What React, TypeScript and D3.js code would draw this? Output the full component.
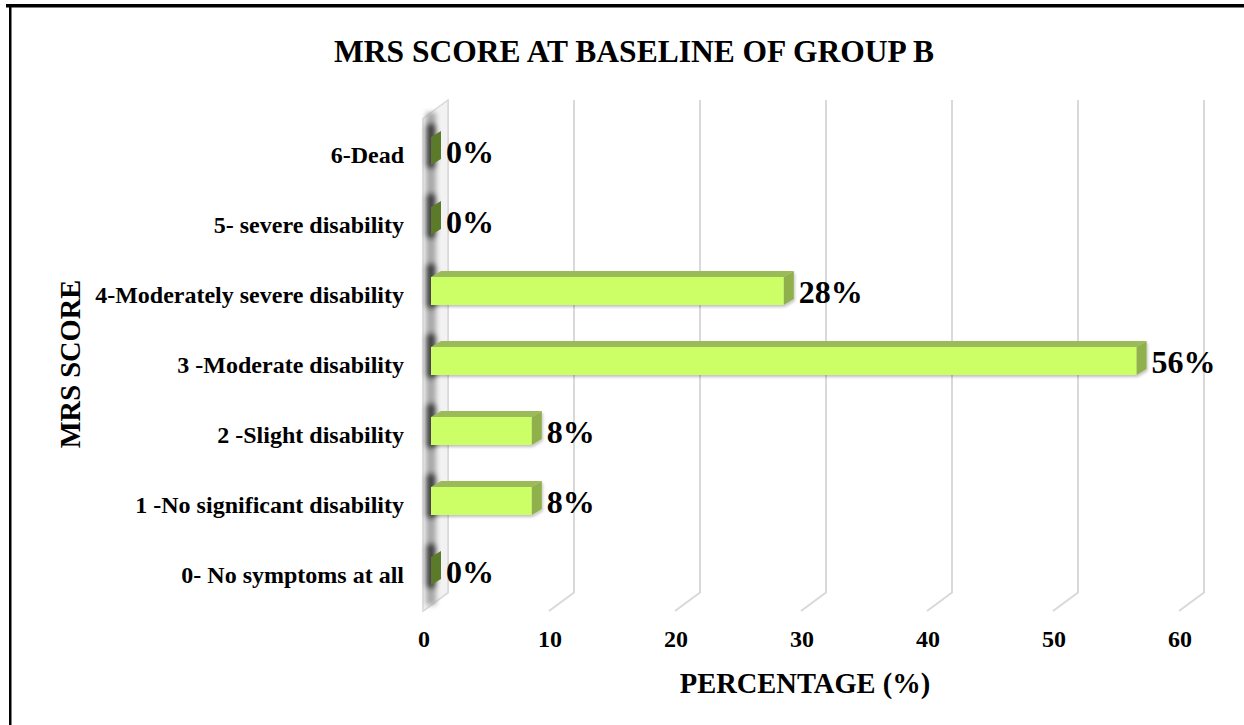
import React from "react";
import * as d3 from "d3";

// mRS categories (bottom to top) and their share of patients in group B
const categories = [
  "0- No symptoms at all",
  "1 -No significant disability",
  "2 -Slight disability",
  "3 -Moderate disability",
  "4-Moderately severe disability",
  "5- severe disability",
  "6-Dead",
];
const percentages = [0, 8, 8, 56, 28, 0, 0];
const xTicks = [0, 10, 20, 30, 40, 50, 60];

const TITLE = "MRS SCORE AT BASELINE OF GROUP B";
const X_TITLE = "PERCENTAGE (%)";
const Y_TITLE = "MRS SCORE";

const W = 1244;
const H = 725;
const FONT = "'Liberation Serif', 'Times New Roman', serif";

// oblique 3D projection: full floor depth shifts points right/up
const DEPTH_DX = 25;
const DEPTH_DY = -18.5;
const FLOOR_FRONT_Y = 611;
const WALL_TOP_Y = 100;

// bar depth sits inside the floor depth
const BAR_OFF_X = 8;
const BAR_DX = 10;
const BAR_DY = -6;

export default function App() {
  const x = d3.scaleLinear().domain([0, 60]).range([423, 1179]);
  const y = d3
    .scaleBand<string>()
    .domain(categories)
    .range([606, 116])
    .padding(0);
  const barH = y.bandwidth() * 0.4;

  const backY = FLOOR_FRONT_Y + DEPTH_DY;
  const wallFrontTop = WALL_TOP_Y - DEPTH_DY;

  return (
    <svg
      width={W}
      height={H}
      style={{ position: "absolute", left: 0, top: 0, background: "#fff" }}
      fontFamily={FONT}
    >
      <defs>
        <filter id="wallBlur" x="-50%" y="-5%" width="200%" height="110%">
          <feGaussianBlur stdDeviation="2.5" />
        </filter>
        <filter id="barShadow" x="-5%" y="-30%" width="110%" height="160%">
          <feGaussianBlur in="SourceAlpha" stdDeviation="1.5" />
          <feOffset dx="1" dy="2" result="o" />
          <feComponentTransfer>
            <feFuncA type="linear" slope="0.25" />
          </feComponentTransfer>
          <feMerge>
            <feMergeNode />
            <feMergeNode in="SourceGraphic" />
          </feMerge>
        </filter>
      </defs>

      {/* page frame */}
      <rect x={6} y={4} width={W - 6} height={3.5} fill="#000" />
      <rect x={9} y={4} width={2.5} height={H - 4} fill="#000" />

      {/* back-wall gridlines running into the floor */}
      {xTicks.map((t) => (
        <polyline
          key={`g${t}`}
          points={`${x(t) + DEPTH_DX},${WALL_TOP_Y} ${x(t) + DEPTH_DX},${backY} ${x(t)},${FLOOR_FRONT_Y}`}
          fill="none"
          stroke="#d9d9d9"
          strokeWidth={2}
        />
      ))}

      {/* side wall at zero */}
      <polygon
        points={`${x(0)},${wallFrontTop} ${x(0) + DEPTH_DX},${WALL_TOP_Y} ${x(0) + DEPTH_DX},${backY} ${x(0)},${FLOOR_FRONT_Y}`}
        fill="#f2f2f2"
        stroke="#d9d9d9"
        strokeWidth={1.5}
      />
      <g filter="url(#wallBlur)">
        <rect
          x={x(0) + 3}
          y={wallFrontTop - 6}
          width={10}
          height={FLOOR_FRONT_Y - wallFrontTop}
          fill="#a8a8a8"
        />
        {categories.map((c) => (
          <rect
            key={`s${c}`}
            x={x(0) + 3}
            y={(y(c) as number) + y.bandwidth() / 2 - barH / 2 - 14}
            width={10}
            height={barH + 18}
            rx={4}
            fill="#444"
          />
        ))}
      </g>

      {/* 3D bars */}
      {categories.map((c, i) => {
        const v = percentages[i];
        const cy = (y(c) as number) + y.bandwidth() / 2;
        const x0 = x(0) + BAR_OFF_X;
        const x1 = x(v) + BAR_OFF_X;
        const yt = cy - barH / 2;
        const yb = cy + barH / 2;
        return (
          <g key={`b${c}`} filter={v > 0 ? "url(#barShadow)" : undefined}>
            {v > 0 && (
              <>
                <rect x={x0} y={yt} width={x1 - x0} height={barH} fill="#ccff66" />
                <polygon
                  points={`${x0},${yt} ${x1},${yt} ${x1 + BAR_DX},${yt + BAR_DY} ${x0 + BAR_DX},${yt + BAR_DY}`}
                  fill="#9bbb59"
                />
              </>
            )}
            <polygon
              points={`${x1},${yt} ${x1 + BAR_DX},${yt + BAR_DY} ${x1 + BAR_DX},${yb + BAR_DY} ${x1},${yb}`}
              fill={v > 0 ? "#8fb04c" : "#5b7a2a"}
            />
          </g>
        );
      })}

      {/* value labels */}
      {categories.map((c, i) => {
        const cy = (y(c) as number) + y.bandwidth() / 2;
        return (
          <text
            key={`v${c}`}
            x={x(percentages[i]) + BAR_OFF_X + BAR_DX + 5}
            y={cy + 12}
            fontSize={32}
            fontWeight="bold"
            fill="#000"
          >
            {`${percentages[i]}%`}
          </text>
        );
      })}

      {/* category labels */}
      {categories.map((c) => (
        <text
          key={`c${c}`}
          x={404}
          y={(y(c) as number) + y.bandwidth() / 2 + 11.5}
          textAnchor="end"
          fontSize={24}
          fontWeight="bold"
          fill="#000"
        >
          {c}
        </text>
      ))}

      {/* x tick labels */}
      {xTicks.map((t) => (
        <text
          key={`t${t}`}
          x={x(t) + 1}
          y={647}
          textAnchor="middle"
          fontSize={24}
          fontWeight="bold"
          fill="#000"
        >
          {t}
        </text>
      ))}

      {/* titles */}
      <text x={634} y={62} textAnchor="middle" fontSize={31.5} fontWeight="bold" fill="#000">
        {TITLE}
      </text>
      <text x={805} y={693} textAnchor="middle" fontSize={28.5} fontWeight="bold" fill="#000">
        {X_TITLE}
      </text>
      <text
        transform={`translate(80,364) rotate(-90)`}
        textAnchor="middle"
        fontSize={28.5}
        fontWeight="bold"
        fill="#000"
      >
        {Y_TITLE}
      </text>
    </svg>
  );
}
